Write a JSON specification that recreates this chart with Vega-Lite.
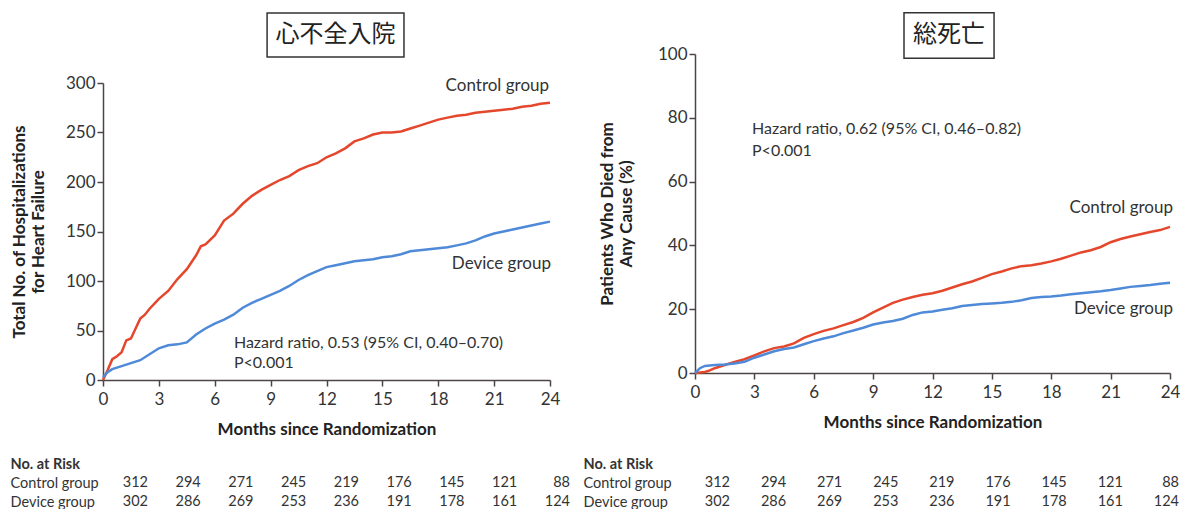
{
  "$schema": "https://vega.github.io/schema/vega-lite/v6.json",
  "background": "white",
  "padding": {"left": 10, "top": 12, "right": 0, "bottom": 0},
  "spacing": 13,
  "columns": 2,
  "align": "none",
  "config": {
    "font": "Lato",
    "view": {"stroke": null},
    "axis": {
      "domainColor": "#4e4444", "domainWidth": 1.5,
      "tickColor": "#4e4444", "tickWidth": 1.5, "tickSize": 6,
      "labelFont": "Lato", "labelFontSize": 17, "labelColor": "#333333",
      "titleFont": "Lato", "titleFontSize": 17, "titleFontWeight": "bold", "titleColor": "#222222",
      "grid": false, "labelFlush": false
    },
    "text": {"font": "Lato", "fontSize": 17, "color": "#333333"}
  },
  "datasets": {
    "hfLines": [
      {"m":0,"v":0,"g":"Control group"},{"m":0.25,"v":10,"g":"Control group"},{"m":0.5,"v":21,"g":"Control group"},{"m":0.75,"v":24,"g":"Control group"},{"m":1,"v":28,"g":"Control group"},{"m":1.25,"v":40,"g":"Control group"},{"m":1.5,"v":42,"g":"Control group"},{"m":1.75,"v":52,"g":"Control group"},{"m":2,"v":62,"g":"Control group"},{"m":2.25,"v":66,"g":"Control group"},{"m":2.5,"v":72,"g":"Control group"},{"m":2.75,"v":77,"g":"Control group"},{"m":3,"v":82,"g":"Control group"},{"m":3.5,"v":90,"g":"Control group"},{"m":4,"v":102,"g":"Control group"},{"m":4.5,"v":112,"g":"Control group"},{"m":5,"v":126,"g":"Control group"},{"m":5.25,"v":135,"g":"Control group"},{"m":5.5,"v":137,"g":"Control group"},{"m":6,"v":146,"g":"Control group"},{"m":6.5,"v":161,"g":"Control group"},{"m":7,"v":168,"g":"Control group"},{"m":7.5,"v":178,"g":"Control group"},{"m":8,"v":186,"g":"Control group"},{"m":8.5,"v":192,"g":"Control group"},{"m":9,"v":197,"g":"Control group"},{"m":9.5,"v":202,"g":"Control group"},{"m":10,"v":206,"g":"Control group"},{"m":10.5,"v":212,"g":"Control group"},{"m":11,"v":216,"g":"Control group"},{"m":11.5,"v":219,"g":"Control group"},{"m":12,"v":225,"g":"Control group"},{"m":12.5,"v":229,"g":"Control group"},{"m":13,"v":234,"g":"Control group"},{"m":13.5,"v":241,"g":"Control group"},{"m":14,"v":244,"g":"Control group"},{"m":14.5,"v":248,"g":"Control group"},{"m":15,"v":250,"g":"Control group"},{"m":15.5,"v":250,"g":"Control group"},{"m":16,"v":251,"g":"Control group"},{"m":16.5,"v":254,"g":"Control group"},{"m":17,"v":257,"g":"Control group"},{"m":17.5,"v":260,"g":"Control group"},{"m":18,"v":263,"g":"Control group"},{"m":18.5,"v":265,"g":"Control group"},{"m":19,"v":267,"g":"Control group"},{"m":19.5,"v":268,"g":"Control group"},{"m":20,"v":270,"g":"Control group"},{"m":20.5,"v":271,"g":"Control group"},{"m":21,"v":272,"g":"Control group"},{"m":21.5,"v":273,"g":"Control group"},{"m":22,"v":274,"g":"Control group"},{"m":22.5,"v":276,"g":"Control group"},{"m":23,"v":277,"g":"Control group"},{"m":23.5,"v":279,"g":"Control group"},{"m":24,"v":280,"g":"Control group"},
      {"m":0,"v":3,"g":"Device group"},{"m":0.25,"v":8,"g":"Device group"},{"m":0.5,"v":11,"g":"Device group"},{"m":1,"v":14,"g":"Device group"},{"m":1.5,"v":17,"g":"Device group"},{"m":2,"v":20,"g":"Device group"},{"m":2.5,"v":26,"g":"Device group"},{"m":3,"v":32,"g":"Device group"},{"m":3.5,"v":35,"g":"Device group"},{"m":4,"v":36,"g":"Device group"},{"m":4.5,"v":38,"g":"Device group"},{"m":5,"v":46,"g":"Device group"},{"m":5.5,"v":52,"g":"Device group"},{"m":6,"v":57,"g":"Device group"},{"m":6.5,"v":61,"g":"Device group"},{"m":7,"v":66,"g":"Device group"},{"m":7.5,"v":73,"g":"Device group"},{"m":8,"v":78,"g":"Device group"},{"m":8.5,"v":82,"g":"Device group"},{"m":9,"v":86,"g":"Device group"},{"m":9.5,"v":90,"g":"Device group"},{"m":10,"v":95,"g":"Device group"},{"m":10.5,"v":101,"g":"Device group"},{"m":11,"v":106,"g":"Device group"},{"m":11.5,"v":110,"g":"Device group"},{"m":12,"v":114,"g":"Device group"},{"m":12.5,"v":116,"g":"Device group"},{"m":13,"v":118,"g":"Device group"},{"m":13.5,"v":120,"g":"Device group"},{"m":14,"v":121,"g":"Device group"},{"m":14.5,"v":122,"g":"Device group"},{"m":15,"v":124,"g":"Device group"},{"m":15.5,"v":125,"g":"Device group"},{"m":16,"v":127,"g":"Device group"},{"m":16.5,"v":130,"g":"Device group"},{"m":17,"v":131,"g":"Device group"},{"m":17.5,"v":132,"g":"Device group"},{"m":18,"v":133,"g":"Device group"},{"m":18.5,"v":134,"g":"Device group"},{"m":19,"v":136,"g":"Device group"},{"m":19.5,"v":138,"g":"Device group"},{"m":20,"v":141,"g":"Device group"},{"m":20.5,"v":145,"g":"Device group"},{"m":21,"v":148,"g":"Device group"},{"m":21.5,"v":150,"g":"Device group"},{"m":22,"v":152,"g":"Device group"},{"m":22.5,"v":154,"g":"Device group"},{"m":23,"v":156,"g":"Device group"},{"m":23.5,"v":158,"g":"Device group"},{"m":24,"v":160,"g":"Device group"}
    ],
    "deathLines": [
      {"m":0,"v":0,"g":"Control group"},{"m":0.5,"v":0.3,"g":"Control group"},{"m":0.75,"v":0.8,"g":"Control group"},{"m":1,"v":1.5,"g":"Control group"},{"m":1.5,"v":2.5,"g":"Control group"},{"m":2,"v":3.5,"g":"Control group"},{"m":2.5,"v":4.3,"g":"Control group"},{"m":3,"v":5.5,"g":"Control group"},{"m":3.5,"v":6.8,"g":"Control group"},{"m":4,"v":7.8,"g":"Control group"},{"m":4.5,"v":8.3,"g":"Control group"},{"m":5,"v":9.3,"g":"Control group"},{"m":5.5,"v":11,"g":"Control group"},{"m":6,"v":12.2,"g":"Control group"},{"m":6.5,"v":13.2,"g":"Control group"},{"m":7,"v":14,"g":"Control group"},{"m":7.5,"v":15,"g":"Control group"},{"m":8,"v":16,"g":"Control group"},{"m":8.5,"v":17.3,"g":"Control group"},{"m":9,"v":19,"g":"Control group"},{"m":9.5,"v":20.5,"g":"Control group"},{"m":10,"v":22,"g":"Control group"},{"m":10.5,"v":23,"g":"Control group"},{"m":11,"v":23.8,"g":"Control group"},{"m":11.5,"v":24.5,"g":"Control group"},{"m":12,"v":25,"g":"Control group"},{"m":12.5,"v":25.8,"g":"Control group"},{"m":13,"v":26.8,"g":"Control group"},{"m":13.5,"v":27.8,"g":"Control group"},{"m":14,"v":28.7,"g":"Control group"},{"m":14.5,"v":29.8,"g":"Control group"},{"m":15,"v":31,"g":"Control group"},{"m":15.5,"v":31.8,"g":"Control group"},{"m":16,"v":32.8,"g":"Control group"},{"m":16.5,"v":33.5,"g":"Control group"},{"m":17,"v":33.8,"g":"Control group"},{"m":17.5,"v":34.3,"g":"Control group"},{"m":18,"v":35,"g":"Control group"},{"m":18.5,"v":35.8,"g":"Control group"},{"m":19,"v":36.8,"g":"Control group"},{"m":19.5,"v":37.8,"g":"Control group"},{"m":20,"v":38.5,"g":"Control group"},{"m":20.5,"v":39.5,"g":"Control group"},{"m":21,"v":41,"g":"Control group"},{"m":21.5,"v":42,"g":"Control group"},{"m":22,"v":42.8,"g":"Control group"},{"m":22.5,"v":43.5,"g":"Control group"},{"m":23,"v":44.2,"g":"Control group"},{"m":23.5,"v":44.8,"g":"Control group"},{"m":24,"v":45.8,"g":"Control group"},
      {"m":0,"v":0,"g":"Device group"},{"m":0.25,"v":1.5,"g":"Device group"},{"m":0.5,"v":2.2,"g":"Device group"},{"m":1,"v":2.5,"g":"Device group"},{"m":1.5,"v":2.7,"g":"Device group"},{"m":2,"v":3,"g":"Device group"},{"m":2.5,"v":3.5,"g":"Device group"},{"m":3,"v":4.8,"g":"Device group"},{"m":3.5,"v":5.8,"g":"Device group"},{"m":4,"v":6.8,"g":"Device group"},{"m":4.5,"v":7.5,"g":"Device group"},{"m":5,"v":8,"g":"Device group"},{"m":5.5,"v":9,"g":"Device group"},{"m":6,"v":10,"g":"Device group"},{"m":6.5,"v":10.8,"g":"Device group"},{"m":7,"v":11.5,"g":"Device group"},{"m":7.5,"v":12.5,"g":"Device group"},{"m":8,"v":13.3,"g":"Device group"},{"m":8.5,"v":14.2,"g":"Device group"},{"m":9,"v":15.2,"g":"Device group"},{"m":9.5,"v":15.8,"g":"Device group"},{"m":10,"v":16.3,"g":"Device group"},{"m":10.5,"v":17,"g":"Device group"},{"m":11,"v":18.2,"g":"Device group"},{"m":11.5,"v":19,"g":"Device group"},{"m":12,"v":19.3,"g":"Device group"},{"m":12.5,"v":19.8,"g":"Device group"},{"m":13,"v":20.3,"g":"Device group"},{"m":13.5,"v":21,"g":"Device group"},{"m":14,"v":21.3,"g":"Device group"},{"m":14.5,"v":21.6,"g":"Device group"},{"m":15,"v":21.8,"g":"Device group"},{"m":15.5,"v":22,"g":"Device group"},{"m":16,"v":22.3,"g":"Device group"},{"m":16.5,"v":22.8,"g":"Device group"},{"m":17,"v":23.5,"g":"Device group"},{"m":17.5,"v":23.8,"g":"Device group"},{"m":18,"v":24,"g":"Device group"},{"m":18.5,"v":24.3,"g":"Device group"},{"m":19,"v":24.7,"g":"Device group"},{"m":19.5,"v":25,"g":"Device group"},{"m":20,"v":25.3,"g":"Device group"},{"m":20.5,"v":25.6,"g":"Device group"},{"m":21,"v":26,"g":"Device group"},{"m":21.5,"v":26.5,"g":"Device group"},{"m":22,"v":27,"g":"Device group"},{"m":22.5,"v":27.3,"g":"Device group"},{"m":23,"v":27.6,"g":"Device group"},{"m":23.5,"v":28,"g":"Device group"},{"m":24,"v":28.3,"g":"Device group"}
    ],
    "atRisk": [
      {"m":0,"row":"Control group","n":312},{"m":3,"row":"Control group","n":294},{"m":6,"row":"Control group","n":271},{"m":9,"row":"Control group","n":245},{"m":12,"row":"Control group","n":219},{"m":15,"row":"Control group","n":176},{"m":18,"row":"Control group","n":145},{"m":21,"row":"Control group","n":121},{"m":24,"row":"Control group","n":88},
      {"m":0,"row":"Device group","n":302},{"m":3,"row":"Device group","n":286},{"m":6,"row":"Device group","n":269},{"m":9,"row":"Device group","n":253},{"m":12,"row":"Device group","n":236},{"m":15,"row":"Device group","n":191},{"m":18,"row":"Device group","n":178},{"m":21,"row":"Device group","n":161},{"m":24,"row":"Device group","n":124}
    ]
  },
  "concat": [
    {
      "width": 447,
      "height": 326,
      "layer": [
        {
          "layer": [
            {
              "data": {"name": "hfLines"},
              "mark": {"type": "line", "strokeWidth": 2.5},
              "encoding": {
                "x": {"field": "m", "type": "quantitative", "scale": {"domain": [0, 24], "nice": false},
                      "axis": {"values": [0,3,6,9,12,15,18,21,24], "title": "Months since Randomization", "labelPadding": 5, "titlePadding": 14}},
                "y": {"field": "v", "type": "quantitative", "scale": {"domain": [0, 300], "range": [326, 29], "nice": false},
                      "axis": {"values": [0,50,100,150,200,250,300], "title": ["Total No. of Hospitalizations", "for Heart Failure"], "labelPadding": 2, "titlePadding": 18}},
                "color": {"field": "g", "type": "nominal", "scale": {"domain": ["Control group", "Device group"], "range": ["#e4472c", "#4f8ad8"]}, "legend": null}
              }
            },
            {
              "data": {"values": [{"t": "Control group"}]},
              "mark": {"type": "text", "align": "right", "baseline": "middle"},
              "encoding": {"x": {"datum": 23.95}, "y": {"datum": 297}, "text": {"field": "t"}}
            },
            {
              "data": {"values": [{"t": "Device group"}]},
              "mark": {"type": "text", "align": "right", "baseline": "middle"},
              "encoding": {"x": {"datum": 24.05}, "y": {"datum": 117}, "text": {"field": "t"}}
            },
            {
              "data": {"values": [{}]},
              "mark": {"type": "text", "align": "left", "baseline": "alphabetic", "lineHeight": 20, "fontSize": 16,
                       "text": ["Hazard ratio, 0.53 (95% CI, 0.40–0.70)", "P<0.001"]},
              "encoding": {"x": {"datum": 7.03}, "y": {"datum": 32.3}}
            },
            {
              "data": {"values": [{}]},
              "mark": {"type": "rect", "fill": "white", "stroke": "#333333", "strokeWidth": 1.5},
              "encoding": {"x": {"datum": 8.81}, "x2": {"datum": 16.16}, "y": {"datum": 370.7}, "y2": {"datum": 326.3}}
            },
            {
              "data": {"values": [{"t": "心不全入院"}]},
              "mark": {"type": "text", "align": "center", "baseline": "middle", "font": "Noto Sans CJK JP", "fontSize": 24, "color": "#222222"},
              "encoding": {"x": {"datum": 12.48}, "y": {"datum": 348.5}, "text": {"field": "t"}}
            }
          ]
        },
        {
          "data": {"name": "atRisk"},
          "mark": {"type": "text", "align": "right", "baseline": "middle", "fontSize": 14.5},
          "encoding": {
            "x": {"field": "m", "type": "quantitative", "scale": {"domain": [0, 24], "range": [45, 467]}, "axis": null},
            "y": {"field": "row", "type": "nominal",
                  "scale": {"type": "point", "domain": ["No. at Risk", "Control group", "Device group"], "range": [410, 448], "padding": 0},
                  "axis": {"orient": "left", "title": null, "domain": false, "ticks": false, "tickSize": 0,
                           "labelAlign": "left", "labelBaseline": "middle", "labelPadding": 93, "labelFontSize": 14.5,
                           "labelFontWeight": {"condition": {"test": "datum.value === 'No. at Risk'", "value": "bold"}, "value": "normal"}}},
            "text": {"field": "n", "type": "quantitative"}
          }
        }
      ],
      "resolve": {"scale": {"x": "independent", "y": "independent"}}
    },
    {
      "width": 475,
      "height": 319,
      "layer": [
        {
          "layer": [
            {
              "data": {"name": "deathLines"},
              "mark": {"type": "line", "strokeWidth": 2.5},
              "encoding": {
                "x": {"field": "m", "type": "quantitative", "scale": {"domain": [0, 24], "nice": false},
                      "axis": {"values": [0,3,6,9,12,15,18,21,24], "title": "Months since Randomization", "labelPadding": 5, "titlePadding": 14}},
                "y": {"field": "v", "type": "quantitative", "scale": {"domain": [0, 100], "nice": false},
                      "axis": {"values": [0,20,40,60,80,100], "title": ["Patients Who Died from", "Any Cause (%)"], "labelPadding": 2, "titlePadding": 22}},
                "color": {"field": "g", "type": "nominal", "scale": {"domain": ["Control group", "Device group"], "range": ["#e4472c", "#4f8ad8"]}, "legend": null}
              }
            },
            {
              "data": {"values": [{"t": "Control group"}]},
              "mark": {"type": "text", "align": "right", "baseline": "middle"},
              "encoding": {"x": {"datum": 24.15}, "y": {"datum": 51.7}, "text": {"field": "t"}}
            },
            {
              "data": {"values": [{"t": "Device group"}]},
              "mark": {"type": "text", "align": "right", "baseline": "middle"},
              "encoding": {"x": {"datum": 24.15}, "y": {"datum": 20.1}, "text": {"field": "t"}}
            },
            {
              "data": {"values": [{}]},
              "mark": {"type": "text", "align": "left", "baseline": "alphabetic", "lineHeight": 22, "fontSize": 16,
                       "text": ["Hazard ratio, 0.62 (95% CI, 0.46–0.82)", "P<0.001"]},
              "encoding": {"x": {"datum": 2.88}, "y": {"datum": 74.9}}
            },
            {
              "data": {"values": [{}]},
              "mark": {"type": "rect", "fill": "white", "stroke": "#333333", "strokeWidth": 1.5},
              "encoding": {"x": {"datum": 10.56}, "x2": {"datum": 15.11}, "y": {"datum": 112.9}, "y2": {"datum": 98.7}}
            },
            {
              "data": {"values": [{"t": "総死亡"}]},
              "mark": {"type": "text", "align": "center", "baseline": "middle", "font": "Noto Sans CJK JP", "fontSize": 24, "color": "#222222"},
              "encoding": {"x": {"datum": 12.83}, "y": {"datum": 105.8}, "text": {"field": "t"}}
            }
          ]
        },
        {
          "data": {"name": "atRisk"},
          "mark": {"type": "text", "align": "right", "baseline": "middle", "fontSize": 14.5},
          "encoding": {
            "x": {"field": "m", "type": "quantitative", "scale": {"domain": [0, 24], "range": [35, 484]}, "axis": null},
            "y": {"field": "row", "type": "nominal",
                  "scale": {"type": "point", "domain": ["No. at Risk", "Control group", "Device group"], "range": [410, 448], "padding": 0},
                  "axis": {"orient": "left", "title": null, "domain": false, "ticks": false, "tickSize": 0,
                           "labelAlign": "left", "labelBaseline": "middle", "labelPadding": 112, "labelFontSize": 14.5,
                           "labelFontWeight": {"condition": {"test": "datum.value === 'No. at Risk'", "value": "bold"}, "value": "normal"}}},
            "text": {"field": "n", "type": "quantitative"}
          }
        }
      ],
      "resolve": {"scale": {"x": "independent", "y": "independent"}}
    }
  ]
}
